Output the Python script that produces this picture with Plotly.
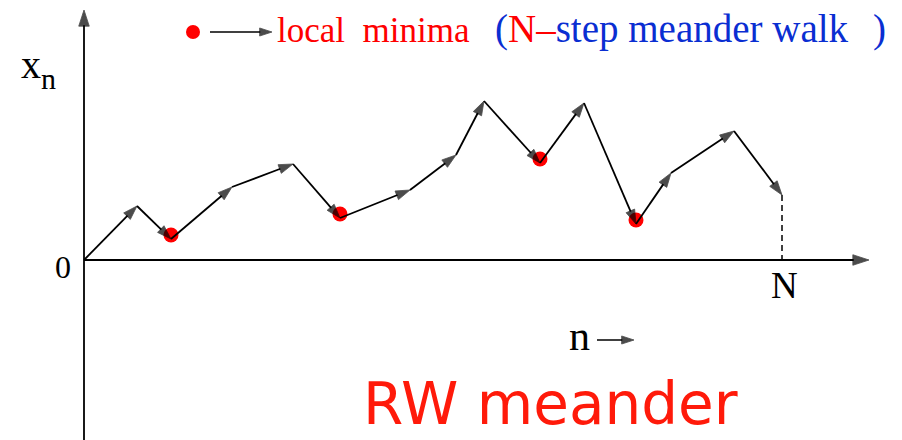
import plotly.graph_objects as go

# N-step meander walk: step positions and walker heights
steps_n = [0, 5.3, 8.7, 14.8, 20.9, 25.6, 32.6, 37.2, 40.0, 45.6, 50.0, 55.2, 58.7, 65.0, 69.8]
walk_x = [0, 5.4, 2.1, 7.3, 9.6, 4.2, 7.0, 10.5, 15.9, 9.7, 15.7, 3.6, 8.7, 12.9, 6.5]

# local minima of the interior of the walk
min_idx = [i for i in range(1, len(walk_x) - 1)
           if walk_x[i] < walk_x[i - 1] and walk_x[i] < walk_x[i + 1]]
min_n = [steps_n[i] for i in min_idx]
min_x = [walk_x[i] for i in min_idx]

W, H = 902, 440
X0_PX, Y0_PX, PX_PER_UNIT = 84, 260, 10.0
XR = [(0 - X0_PX) / PX_PER_UNIT, (W - X0_PX) / PX_PER_UNIT]
YR = [(Y0_PX - H) / PX_PER_UNIT, (Y0_PX - 0) / PX_PER_UNIT]


def dx(px):
    return (px - X0_PX) / PX_PER_UNIT


def dy(py):
    return (Y0_PX - py) / PX_PER_UNIT


SERIF = "Liberation Serif, Times New Roman, serif"
RED = "#ff0000"
BLUE = "#0a2ed2"
LW = 1.8
HEAD = 15


def arrow_line(xs, ys, width=LW, head=HEAD):
    fig.add_trace(go.Scatter(x=xs, y=ys, mode="lines+markers",
                             line=dict(color="black", width=width),
                             marker=dict(symbol="arrow", size=[0] + [head] * (len(xs) - 1),
                                         angleref="previous", color="black",
                                         line=dict(width=0.8, color="black")),
                             hoverinfo="skip"))


fig = go.Figure()

# coordinate axes with arrow tips
arrow_line([0, 0], [YR[0], dy(10)], head=17)
arrow_line([0, dx(869)], [0, 0], head=17)

# dashed drop from the final position to the n axis
fig.add_trace(go.Scatter(x=[steps_n[-1], steps_n[-1]], y=[walk_x[-1], 0], mode="lines",
                         line=dict(color="black", width=1.5, dash="6px,4px"),
                         hoverinfo="skip"))

# local minima dots
fig.add_trace(go.Scatter(x=min_n, y=[v + 0.4 for v in min_x], mode="markers",
                         marker=dict(color=RED, size=15, line=dict(width=0)),
                         hoverinfo="skip"))

# the walk itself, one arrow per step
arrow_line(steps_n, walk_x)

# legend glyph: dot and arrow
fig.add_trace(go.Scatter(x=[dx(193)], y=[dy(32)], mode="markers",
                         marker=dict(color=RED, size=14), hoverinfo="skip"))
arrow_line([dx(210), dx(272)], [dy(32), dy(32)], width=1.5, head=13)
# arrow after the n label
arrow_line([dx(597), dx(634)], [dy(340), dy(340)], width=1.5, head=13)


def label(text, px, baseline, size, family=SERIF, color="black", anchor="left", k=0.34):
    fig.add_annotation(x=dx(px), y=dy(baseline - k * size), text=text, showarrow=False,
                       xanchor=anchor, yanchor="middle",
                       font=dict(family=family, size=size, color=color))


label("x", 19, 78, 40)
label("n", 39, 89, 30)
label("0", 63, 278, 32, anchor="center")
label("N", 784, 298, 37, anchor="center")
label("n", 567, 350, 42)
label("local&nbsp;&nbsp;minima", 275, 42, 35, color=RED)
label("(<span style='color:%s'>N–</span>step meander walk" % RED, 493, 42, 39, color=BLUE)
label(")", 871, 42, 39, color=BLUE)

# big caption sitting on the bottom edge
fig.add_annotation(x=dx(550), y=0, yref="paper", text="RW meander", showarrow=False,
                   xanchor="center", yanchor="bottom",
                   font=dict(family="DejaVu Sans, sans-serif", size=58, color="#ff1a0a"))

fig.update_layout(
    width=W, height=H, margin=dict(l=0, r=0, t=0, b=0),
    paper_bgcolor="white", plot_bgcolor="white", showlegend=False,
    xaxis=dict(range=XR, visible=False, fixedrange=True),
    yaxis=dict(range=YR, visible=False, fixedrange=True),
)

fig.write_html("out.html", config={"displayModeBar": False})
